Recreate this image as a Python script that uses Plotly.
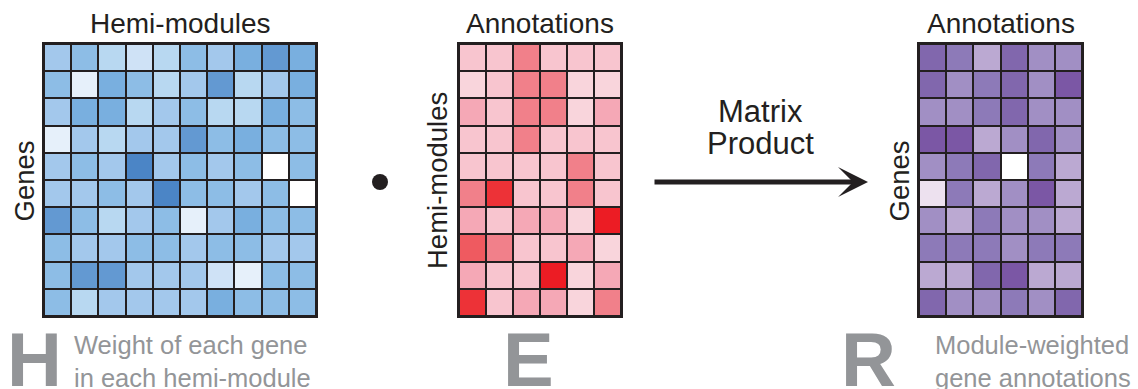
import plotly.graph_objects as go

W, H = 1138, 389

# ---- data (intensity levels) ----
h_weights = [
    [4, 5, 3, 2, 3, 5, 4, 6, 7, 6],
    [5, 1, 6, 5, 3, 4, 7, 3, 4, 6],
    [4, 6, 6, 3, 4, 5, 3, 3, 6, 5],
    [1, 4, 3, 4, 4, 7, 5, 6, 5, 5],
    [4, 5, 4, 8, 4, 5, 4, 5, 0, 5],
    [4, 4, 5, 4, 8, 5, 5, 4, 5, 0],
    [7, 5, 3, 4, 5, 1, 4, 6, 5, 5],
    [5, 4, 4, 5, 5, 4, 5, 5, 4, 4],
    [5, 7, 7, 4, 4, 4, 2, 1, 5, 5],
    [5, 3, 4, 4, 4, 4, 6, 5, 5, 5],
]
e_annotations = [
    [1, 1, 3, 1, 1, 1],
    [0, 1, 3, 3, 0, 0],
    [2, 1, 3, 3, 0, 2],
    [1, 1, 3, 1, 1, 1],
    [1, 1, 1, 1, 3, 1],
    [3, 5, 1, 1, 3, 1],
    [2, 1, 2, 2, 0, 6],
    [4, 3, 1, 1, 2, 0],
    [2, 1, 1, 6, 0, 2],
    [5, 1, 2, 2, 0, 3],
]
r_product = [
    [5, 4, 2, 5, 3, 3],
    [5, 3, 4, 5, 3, 6],
    [3, 3, 4, 5, 3, 3],
    [6, 6, 2, 3, 5, 3],
    [3, 4, 5, 0, 4, 2],
    [1, 4, 2, 3, 6, 2],
    [3, 2, 4, 3, 3, 2],
    [4, 4, 4, 3, 4, 4],
    [2, 2, 5, 6, 2, 2],
    [5, 3, 3, 4, 3, 5],
]

blue_levels = ["#ffffff", "#e6f0fa", "#cfe2f6", "#b8d8f1", "#a3c8ec",
               "#8dbde6", "#79afdf", "#6399d2", "#4b85c6"]
red_levels = ["#f9d5dc", "#f8c5cf", "#f5a8b6", "#f1808a", "#ef5a60",
              "#ed3237", "#ec1c24"]
purple_levels = ["#ffffff", "#ede1ef", "#bba9d2", "#a18fc4", "#8d7ab8",
                 "#8167ad", "#7b57a5"]

panel_titles = ["Hemi-modules", "Annotations", "Annotations"]
row_titles = ["Genes", "Hemi-modules", "Genes"]
big_letters = ["H", "E", "R"]
captions = ["Weight of each gene<br>in each hemi-module", "",
            "Module-weighted<br>gene annotations"]
arrow_label = ["Matrix", "Product"]

DARK = "#231f20"
GREY = "#939598"
FONT = "Liberation Sans, Arial, sans-serif"


def px(x):
    return x / W


def py(y):
    return 1 - y / H


def scale(cols):
    n = len(cols) - 1
    return [[i / n, c] for i, c in enumerate(cols)]


# panel pixel boxes (left, right)
panels = [(44, 316), (459, 621), (919, 1082)]
top, bottom = 44, 316

fig = go.Figure()
mats = [h_weights, e_annotations, r_product]
pals = [blue_levels, red_levels, purple_levels]
for i, (m, pal) in enumerate(zip(mats, pals)):
    sfx = "" if i == 0 else str(i + 1)
    fig.add_trace(go.Heatmap(
        z=m, colorscale=scale(pal), zmin=0, zmax=len(pal) - 1,
        showscale=False, xgap=2, ygap=2, hoverinfo="skip",
        xaxis="x" + sfx, yaxis="y" + sfx))
    ax = dict(showgrid=False, zeroline=False, showticklabels=False,
              ticks="", showline=True, mirror=True, linewidth=2,
              linecolor=DARK, fixedrange=True)
    l, r = panels[i]
    fig.update_layout(**{
        "xaxis" + sfx: dict(ax, domain=[px(l), px(r)], anchor="y" + sfx,
                            range=[-0.5, len(m[0]) - 0.5]),
        "yaxis" + sfx: dict(ax, domain=[py(bottom), py(top)], anchor="x" + sfx,
                            range=[len(m) - 0.5, -0.5]),
    })

ann = []
# panel titles
for i, t in enumerate(panel_titles):
    l, r = panels[i]
    ann.append(dict(text=t, x=px((l + r) / 2), y=py(24), xref="paper", yref="paper",
                    xanchor="center", yanchor="middle", showarrow=False,
                    font=dict(family=FONT, size=28, color=DARK)))
# row titles (rotated)
for xc, t in zip([23.5, 437, 898.5], row_titles):
    ann.append(dict(text=t, x=px(xc), y=py(181), xref="paper", yref="paper",
                    xanchor="center", yanchor="middle", textangle=-90, showarrow=False,
                    font=dict(family=FONT, size=27.5, color=DARK)))
# big letters
for xc, t in zip([34, 528, 868], big_letters):
    ann.append(dict(text="<b>" + t + "</b>", x=px(xc), y=py(359), xref="paper",
                    yref="paper", xanchor="center", yanchor="middle", showarrow=False,
                    font=dict(family=FONT, size=76, color=GREY)))
# captions
for xl, t in zip([72, 0, 933], captions):
    if t:
        ann.append(dict(text=t, x=px(xl), y=py(329), xref="paper", yref="paper",
                        xanchor="left", yanchor="top", align="left", showarrow=False,
                        font=dict(family=FONT, size=25.5, color=GREY)))
# matrix product label and arrow
for yc, t in zip([112, 143], arrow_label):
    ann.append(dict(text=t, x=px(760), y=py(yc), xref="paper", yref="paper",
                    xanchor="center", yanchor="middle", showarrow=False,
                    font=dict(family=FONT, size=31, color=DARK)))
ann.append(dict(text="", x=px(868), y=py(182), xref="paper", yref="paper",
                ax=-215, ay=0, showarrow=True, arrowhead=3, arrowwidth=5,
                arrowsize=1, arrowcolor=DARK))

fig.update_layout(
    width=W, height=H, margin=dict(l=0, r=0, t=0, b=0),
    paper_bgcolor="white", plot_bgcolor=DARK,
    annotations=ann,
    shapes=[dict(type="circle", xref="paper", yref="paper",
                 x0=px(372), x1=px(388), y0=py(190), y1=py(174),
                 fillcolor=DARK, line=dict(width=0))],
)

fig.write_html("out.html", config={"displayModeBar": False},
               post_script="document.body.style.margin='0';"
                           "document.body.style.overflow='hidden';")
